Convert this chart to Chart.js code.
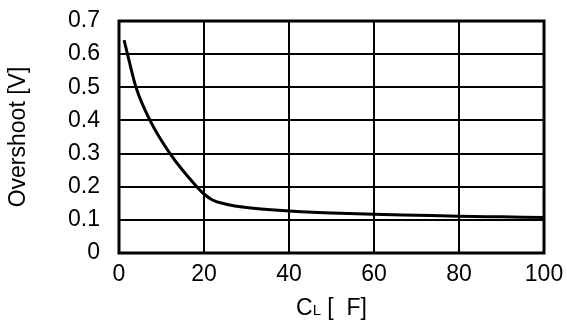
<!DOCTYPE html>
<html>
<head>
<meta charset="utf-8">
<script src="https://cdn.jsdelivr.net/npm/chart.js@4"></script>
<style>
    html, body { margin: 0; padding: 0; background: #fff; }
    #wrap { width: 567px; height: 322px; position: relative; }
</style>
</head>
<body>
<div id="wrap"><canvas id="chart"></canvas></div>
<script>
// Overshoot vs load capacitance
const capValues = [1.2, 2, 4, 7.3, 12, 18.3, 20, 22, 25, 30, 40, 50, 60, 70, 80, 90, 100];
const overshootValues = [0.642, 0.60, 0.50, 0.40, 0.30, 0.20, 0.178, 0.16, 0.148, 0.137, 0.127, 0.121, 0.117, 0.114, 0.111, 0.109, 0.107];

const xTitle = ['C', 'L', ' [  F]'];
const yTitle = 'Overshoot [V]';
const FONT = 'Liberation Sans, Arial, sans-serif';
const FS = 23;

// Frame round the plot area + x title with subscript
const framePlugin = {
    id: 'frame',
    afterDraw(chart) {
        const { ctx, chartArea: a } = chart;
        ctx.save();
        ctx.strokeStyle = '#000';
        ctx.lineWidth = 3;
        ctx.strokeRect(a.left, a.top, a.right - a.left, a.bottom - a.top);

        // x axis title, "L" drawn as subscript
        ctx.fillStyle = '#000';
        ctx.textBaseline = 'alphabetic';
        ctx.font = FS + 'px ' + FONT;
        const w0 = ctx.measureText(xTitle[0]).width;
        const w2 = ctx.measureText(xTitle[2]).width;
        ctx.font = '15px ' + FONT;
        const w1 = ctx.measureText(xTitle[1]).width;
        let x = (a.left + a.right) / 2 - (w0 + w1 + w2) / 2;
        const y = 315;
        ctx.font = FS + 'px ' + FONT;
        ctx.fillText(xTitle[0], x, y);
        x += w0;
        ctx.font = '15px ' + FONT;
        ctx.fillText(xTitle[1], x, y);
        x += w1;
        ctx.font = FS + 'px ' + FONT;
        ctx.fillText(xTitle[2], x, y);
        ctx.restore();
    }
};

new Chart(document.getElementById('chart'), {
    type: 'line',
    data: {
        datasets: [{
            data: capValues.map((c, i) => ({ x: c, y: overshootValues[i] })),
            borderColor: '#000',
            borderWidth: 3,
            pointRadius: 0,
            fill: false,
            cubicInterpolationMode: 'monotone'
        }]
    },
    options: {
        responsive: true,
        maintainAspectRatio: false,
        animation: false,
        layout: { padding: { top: 21, right: 23, bottom: 0, left: 0 } },
        plugins: {
            legend: { display: false },
            tooltip: { enabled: false }
        },
        scales: {
            x: {
                type: 'linear',
                min: 0,
                max: 100,
                border: { display: false },
                grid: { color: '#000', lineWidth: 2, drawTicks: false },
                ticks: {
                    stepSize: 20,
                    color: '#000',
                    padding: 8,
                    font: { family: FONT, size: FS }
                },
                afterFit(scale) {
                    scale.height = 69;
                    scale.paddingLeft = 0;
                    scale.paddingRight = 0;
                }
            },
            y: {
                min: 0,
                max: 0.7,
                border: { display: false },
                grid: { color: '#000', lineWidth: 2, drawTicks: false },
                title: {
                    display: true,
                    text: yTitle,
                    color: '#000',
                    padding: { top: 5, bottom: 0 },
                    font: { family: FONT, size: FS }
                },
                ticks: {
                    stepSize: 0.1,
                    color: '#000',
                    padding: 19,
                    font: { family: FONT, size: FS },
                    callback: v => v === 0 ? '0' : v.toFixed(1)
                },
                afterFit(scale) {
                    scale.width = 119;
                    scale.paddingTop = 0;
                    scale.paddingBottom = 0;
                }
            }
        }
    },
    plugins: [framePlugin]
});
</script>
</body>
</html>
